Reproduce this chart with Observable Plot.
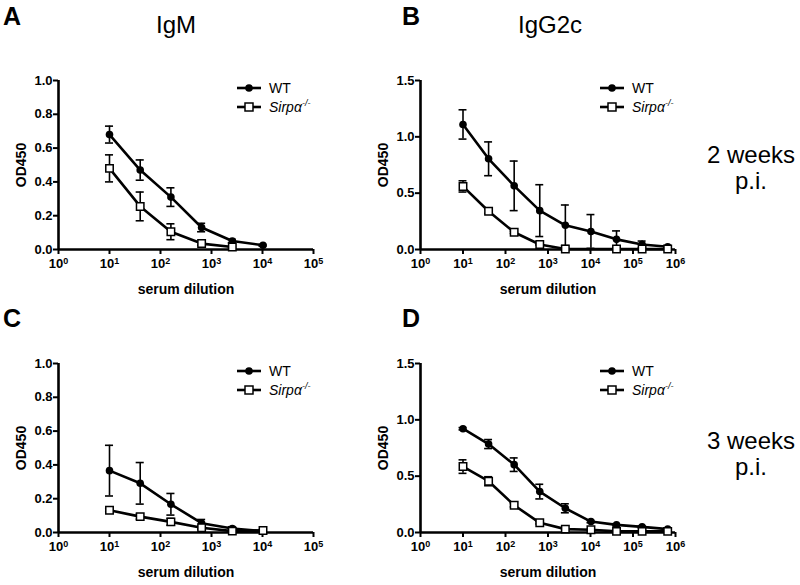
<!DOCTYPE html>
<html>
<head>
<meta charset="utf-8">
<script src="https://cdn.jsdelivr.net/npm/d3@7"></script>
<script src="https://cdn.jsdelivr.net/npm/@observablehq/plot@0.6"></script>
<style>
  html, body { margin: 0; padding: 0; background: #fff; }
  #root { position: relative; width: 800px; height: 585px; font-family: "Liberation Sans", Arial, sans-serif; color: #000; overflow: hidden; }
  .abs { position: absolute; white-space: nowrap; }
  .letter { font-weight: bold; font-size: 25px; line-height: 1; }
  .title { font-size: 24px; line-height: 1; transform: translateX(-50%); }
  .side { font-size: 24px; line-height: 26px; text-align: center; transform: translateX(-50%); }
  .leg { font-size: 14px; line-height: 1; display: flex; align-items: center; }
  .leg svg { margin-right: 8px; }
  .leg sup { font-size: 9px; vertical-align: 6px; }
</style>
</head>
<body>
<div id="root"></div>
<script>
// ---- data ----
const dil6 = [10, 40, 160, 640, 2560, 10240];
const dil9 = [10, 40, 160, 640, 2560, 10240, 40960, 163840, 655360];
const dilIgG2KO = [10, 40, 160, 640, 2560, 40960, 163840, 655360];

const igm2wkWT    = [0.68, 0.47, 0.31, 0.13, 0.05, 0.025];
const igm2wkWTerr = [0.05, 0.06, 0.055, 0.025, 0.01, 0.005];
const igm2wkKO    = [0.48, 0.255, 0.105, 0.035, 0.015];
const igm2wkKOerr = [0.08, 0.085, 0.047, 0.01, 0.005];

const igg2wkWT    = [1.11, 0.805, 0.565, 0.345, 0.215, 0.16, 0.09, 0.045, 0.024];
const igg2wkWTerr = [0.13, 0.15, 0.22, 0.23, 0.18, 0.15, 0.075, 0.03, 0.01];
const igg2wkKO    = [0.56, 0.34, 0.153, 0.044, 0.005, 0.005, 0.005, 0.005];
const igg2wkKOerr = [0.05, 0.02, 0.01, 0.005, 0, 0, 0, 0];

const igm3wkWT    = [0.366, 0.291, 0.167, 0.055, 0.024, 0.008];
const igm3wkWTerr = [0.15, 0.123, 0.064, 0.022, 0.01, 0.005];
const igm3wkKO    = [0.132, 0.094, 0.063, 0.028, 0.008, 0.012];
const igm3wkKOerr = [0.01, 0.015, 0.02, 0.008, 0.005, 0.005];

const igg3wkWT    = [0.921, 0.785, 0.602, 0.363, 0.215, 0.097, 0.068, 0.05, 0.03];
const igg3wkWTerr = [0.01, 0.04, 0.06, 0.065, 0.04, 0.01, 0.01, 0.01, 0.01];
const igg3wkKO    = [0.585, 0.455, 0.242, 0.086, 0.03, 0.024, 0.01, 0.01, 0.01];
const igg3wkKOerr = [0.06, 0.04, 0.015, 0.01, 0.005, 0.005, 0.005, 0.005, 0.005];

const igmYTicks = [0, 0.2, 0.4, 0.6, 0.8, 1.0];
const iggYTicks = [0, 0.5, 1.0, 1.5];
const xTicks5 = [1, 10, 100, 1000, 10000, 100000];
const xTicks6 = [1, 10, 100, 1000, 10000, 100000, 1000000];

// ---- helpers ----
const powFmt = d => "10^" + Math.round(Math.log10(d));
const rows = (xs, ys, es) => xs.map((x, i) => ({x, y: ys[i], e: es[i]}));

function panel({wt, ko, yMax, yTicks, xMax, xTicks, capF}) {
  const font = '"Liberation Sans", Arial, sans-serif';
  const errMarks = (data) => [
    Plot.ruleX(data.filter(d => d.e > 0), {x: "x", y1: d => Math.max(0, d.y - d.e), y2: d => d.y + d.e, stroke: "#000", strokeWidth: 1.6}),
    Plot.ruleY(data.filter(d => d.e > 0), {x1: d => d.x / capF, x2: d => d.x * capF, y: d => d.y + d.e, stroke: "#000", strokeWidth: 1.6}),
    Plot.ruleY(data.filter(d => d.e > 0 && d.y - d.e > 0), {x1: d => d.x / capF, x2: d => d.x * capF, y: d => d.y - d.e, stroke: "#000", strokeWidth: 1.6})
  ];
  const svg = Plot.plot({
    width: 340, height: 241,
    marginTop: 20, marginBottom: 52, marginRight: 340 - 58 - 255, marginLeft: 58,
    style: {fontFamily: font, fontSize: "13px", fontWeight: "bold", color: "#000", background: "transparent", overflow: "visible"},
    x: {type: "log", domain: [1, xMax]},
    y: {domain: [0, yMax]},
    marks: [
      Plot.axisY({ticks: yTicks, tickFormat: d3.format(".1f"), tickSize: 5, tickPadding: 1, strokeWidth: 2, fontWeight: "bold", fontSize: 13,
        label: "OD450", labelAnchor: "center", labelOffset: 42, labelArrow: "none"}),
      Plot.axisX({ticks: xTicks, tickFormat: powFmt, tickSize: 5, tickPadding: 4, strokeWidth: 2, fontWeight: "bold", fontSize: 13,
        label: "serum dilution", labelAnchor: "center", labelOffset: 44, labelArrow: "none"}),
      Plot.ruleX([1], {stroke: "#000", strokeWidth: 2.6}),
      Plot.ruleY([0], {stroke: "#000", strokeWidth: 2.6}),
      ...errMarks(wt),
      ...errMarks(ko),
      Plot.line(wt, {x: "x", y: "y", stroke: "#000", strokeWidth: 2.6}),
      Plot.line(ko, {x: "x", y: "y", stroke: "#000", strokeWidth: 2.6}),
      Plot.dot(wt, {x: "x", y: "y", r: 3.8, fill: "#000", stroke: "none"}),
      Plot.dot(ko, {x: "x", y: "y", symbol: "square", r: 4.2, fill: "#fff", stroke: "#000", strokeWidth: 1.5})
    ]
  });
  // typeset the power-of-ten tick labels with a real superscript
  svg.querySelectorAll('g[aria-label="x-axis tick label"] text').forEach(t => {
    const [base, exp] = t.textContent.split("^");
    if (exp === undefined) return;
    t.textContent = base;
    const s = document.createElementNS("http://www.w3.org/2000/svg", "tspan");
    s.setAttribute("dy", "-0.45em");
    s.setAttribute("font-size", "9px");
    s.textContent = exp;
    t.appendChild(s);
  });
  svg.querySelectorAll('g[aria-label="x-axis label"] text, g[aria-label="y-axis label"] text').forEach(t => {
    t.setAttribute("font-size", "14px");
  });
  return svg;
}

const root = document.getElementById("root");
function place(node, left, top) {
  const d = document.createElement("div");
  d.className = "abs";
  d.style.left = left + "px"; d.style.top = top + "px";
  d.appendChild(node);
  root.appendChild(d);
}
function html(cls, left, top, inner) {
  const d = document.createElement("div");
  d.className = "abs " + cls;
  d.style.left = left + "px"; d.style.top = top + "px";
  d.innerHTML = inner;
  root.appendChild(d);
}
function legend(left, top) {
  const dotSvg = '<svg width="24" height="10"><line x1="0" y1="5" x2="24" y2="5" stroke="#000" stroke-width="2.6"/><circle cx="12" cy="5" r="3.8" fill="#000"/></svg>';
  const sqSvg = '<svg width="24" height="10"><line x1="0" y1="5" x2="24" y2="5" stroke="#000" stroke-width="2.6"/><rect x="8" y="1" width="8" height="8" fill="#fff" stroke="#000" stroke-width="1.5"/></svg>';
  html("leg", left, top, dotSvg + "<span>WT</span>");
  html("leg", left, top + 18, sqSvg + "<span><i>Sirp&alpha;</i><sup><i>-/-</i></sup></span>");
}

place(panel({wt: rows(dil6, igm2wkWT, igm2wkWTerr), ko: rows(dil6.slice(0, 5), igm2wkKO, igm2wkKOerr),
  yMax: 1.0, yTicks: igmYTicks, xMax: 1e5, xTicks: xTicks5, capF: 1.2}), 0, 60);
place(panel({wt: rows(dil9, igg2wkWT, igg2wkWTerr), ko: rows(dilIgG2KO, igg2wkKO, igg2wkKOerr),
  yMax: 1.5, yTicks: iggYTicks, xMax: 1e6, xTicks: xTicks6, capF: 1.24}), 362, 60);
place(panel({wt: rows(dil6, igm3wkWT, igm3wkWTerr), ko: rows(dil6, igm3wkKO, igm3wkKOerr),
  yMax: 1.0, yTicks: igmYTicks, xMax: 1e5, xTicks: xTicks5, capF: 1.2}), 0, 343);
place(panel({wt: rows(dil9, igg3wkWT, igg3wkWTerr), ko: rows(dil9, igg3wkKO, igg3wkKOerr),
  yMax: 1.5, yTicks: iggYTicks, xMax: 1e6, xTicks: xTicks6, capF: 1.24}), 362, 343);

html("letter", 3, 4, "A");
html("letter", 402, 4, "B");
html("letter", 3, 306, "C");
html("letter", 402, 306, "D");
html("title", 176, 13, "IgM");
html("title", 550, 13, "IgG2c");
html("side", 751, 142, "2 weeks<br>p.i.");
html("side", 751, 428, "3 weeks<br>p.i.");
legend(237, 81);
legend(600, 81);
legend(237, 364);
legend(600, 364);
</script>
</body>
</html>
